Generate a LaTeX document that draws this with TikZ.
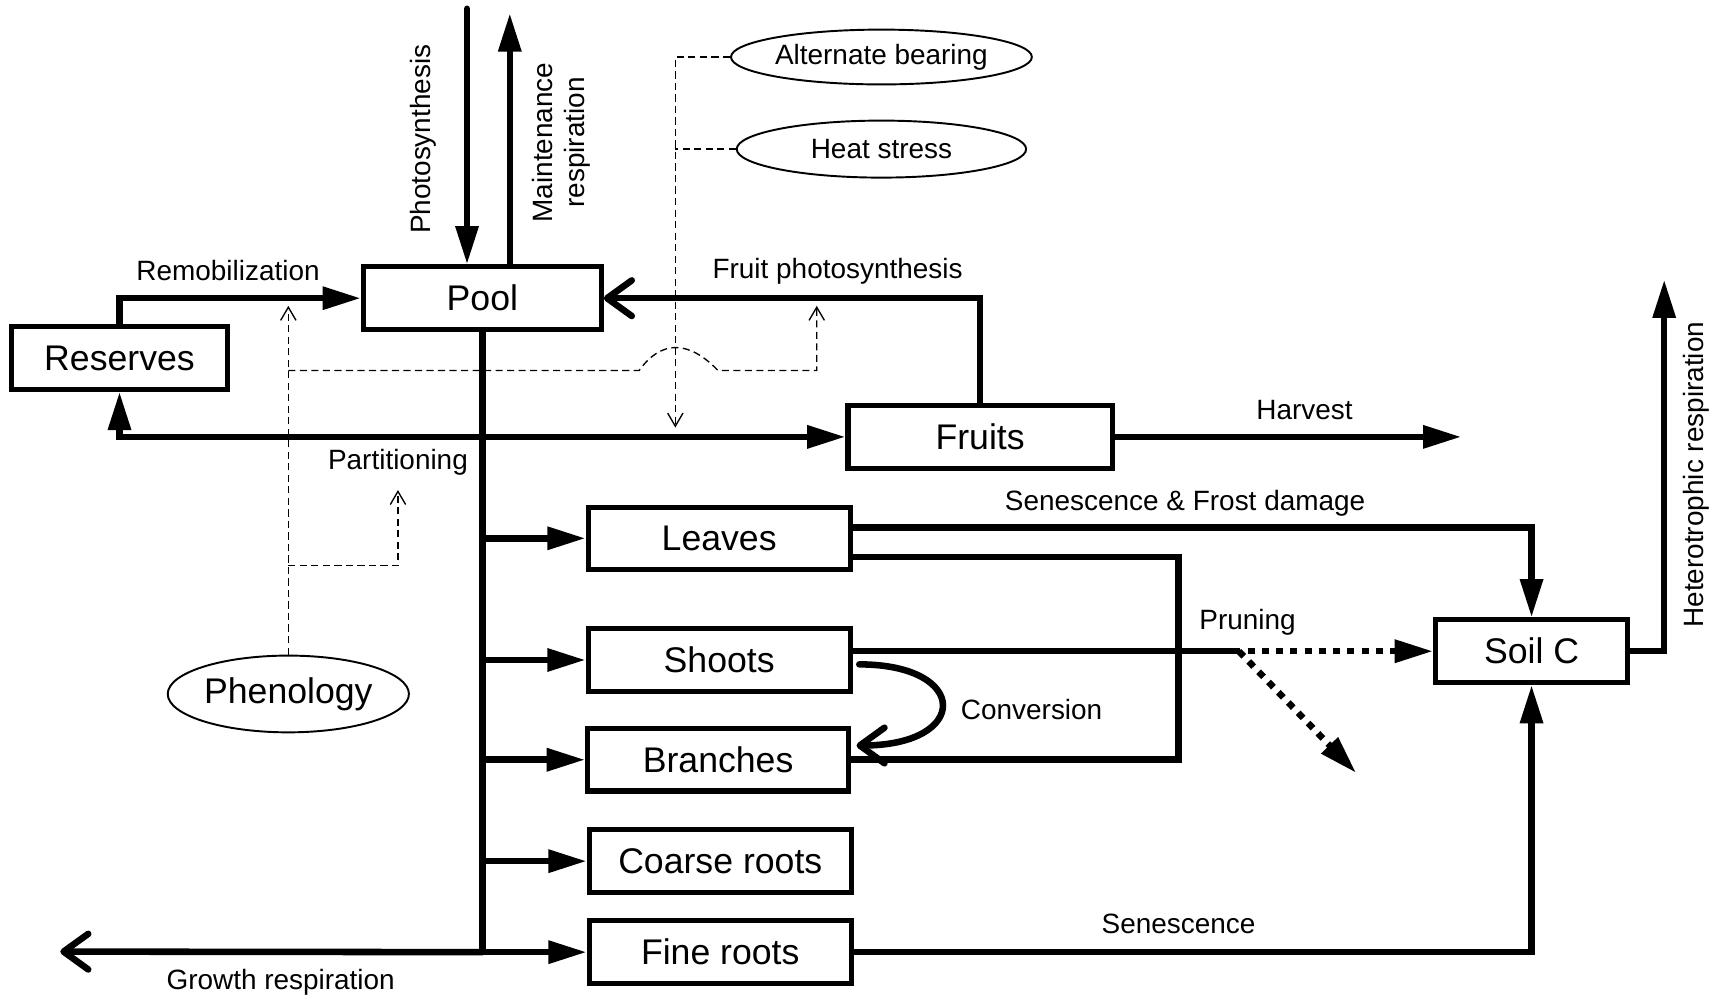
\documentclass[tikz,border=0pt]{standalone}
\usepackage{fontspec}
\setmainfont{Liberation Sans}
\usetikzlibrary{arrows.meta, calc, shapes.geometric}

\begin{document}
\begin{tikzpicture}[%
        x = 0.2mm,
        y = -0.2mm,
        line cap = round,
        > = {Triangle[length = 7mm, width = 4mm]},
        flow/.style = {line width = 3.4pt},
        compartment/.style = {%
            draw,
            line width = 2.6pt,
            minimum height = 11.4mm,
            inner sep = 0pt,
            font = \fontsize{18.5}{22}\selectfont
        },
        driver/.style = {%
            draw,
            ellipse,
            line width = 1pt,
            inner sep = 0pt,
            font = \fontsize{14.5}{17}\selectfont
        },
        flowtext/.style = {font = \fontsize{14.5}{17}\selectfont},
        control/.style = {%
            line width = 0.7pt,
            line cap = butt,
            dash pattern = on 1.3mm off 0.8mm
        },
        smallhead/.style = {-{Straight Barb[length = 2.4mm, width = 2.8mm]}},
        openhead/.style = {-{Straight Barb[round, length = 4.5mm, width = 6.5mm]}},
        prunedash/.style = {line cap = butt, dash pattern = on 1.3mm off 1.3mm}
    ]

        \useasboundingbox (0, 0) rectangle (1568, 910);

        % The carbon compartments.
        \node[compartment, minimum width = 43.4mm] (Pool) at (440, 272) {Pool};
        \node[compartment, minimum width = 39.4mm] (Reserves) at (109, 326.5) {Reserves};
        \node[compartment, minimum width = 48.2mm] (Fruits) at (894, 398.5) {Fruits};
        \node[compartment, minimum width = 47.8mm] (Leaves) at (656, 491) {Leaves};
        \node[compartment, minimum width = 47.8mm] (Shoots) at (656, 602) {Shoots};
        \node[compartment, minimum width = 47.6mm] (Branches) at (655, 693) {Branches};
        \node[compartment, minimum width = 47.8mm] (CoarseRoots) at (657, 785.5) {Coarse roots};
        \node[compartment, minimum width = 47.8mm] (FineRoots) at (657, 868.5) {Fine roots};
        \node[compartment, minimum width = 35mm] (SoilC) at (1397, 594) {Soil C};

        % The drivers in ellipses.
        \node[driver, minimum width = 52.8mm, minimum height = 10mm] (AltBearing) at (804, 52) {Alternate bearing};
        \node[driver, minimum width = 52.8mm, minimum height = 10.4mm] (HeatStress) at (804, 136) {Heat stress};
        \node[driver, minimum width = 44mm, minimum height = 14mm,
            font = \fontsize{18.5}{22}\selectfont] (Phenology) at (263, 633) {Phenology};

        % Free ends and bends of the connectors.
        \coordinate (ps) at (426, 8);
        \coordinate (mr) at (465, 12);
        \coordinate (trunk) at (440, 868);
        \coordinate (gr) at (55, 868);
        \coordinate (harvest) at (1333, 398.5);
        \coordinate (hr) at (1518, 255);
        \coordinate (lvtop) at ($(Leaves.east) + (0, -10)$);
        \coordinate (lvlow) at ($(Leaves.east) + (0, 17)$);
        \coordinate (merge) at (1075, 693);
        \coordinate (shout) at ($(Shoots.east) + (0, -8)$);
        \coordinate (prune) at (1125, 594);
        \coordinate (prunecut) at (1130, 594);
        \coordinate (pruneout) at (1237, 705);
        \coordinate (cstart) at ($(Shoots.east) + (6, 4)$);
        \coordinate (cend) at ($(Branches.east) + (5, -13)$);

        % Positions of the dashed control lines.
        \coordinate (fl) at (616, 390);
        \coordinate (remob) at (263, 279);
        \coordinate (ph1) at (263, 338);
        \coordinate (hump1) at (583, 338);
        \coordinate (hump2) at (655, 338);
        \coordinate (fp) at (745, 279);
        \coordinate (ph2) at (263, 516);
        \coordinate (pt) at (363, 447);

        % Add all of the labels.
        \node[flowtext, rotate = 90] (phototext) at (386, 127) {Photosynthesis};
        \node[flowtext, rotate = 90, align = center] (mrtext) at (512, 130) {Maintenance\\respiration};
        \node[flowtext] (remobtext) at (208, 247) {Remobilization};
        \node[flowtext] (fptext) at (764, 247) {Fruit photosynthesis};
        \node[flowtext] (parttext) at (363, 422) {Partitioning};
        \node[flowtext] (harvtext) at (1190, 374) {Harvest};
        \node[flowtext] (sftext) at (1081, 459) {Senescence \& Frost damage};
        \node[flowtext] (prunetext) at (1138, 568) {Pruning};
        \node[flowtext] (convtext) at (941, 647) {Conversion};
        \node[flowtext] (sentext) at (1075, 843) {Senescence};
        \node[flowtext] (grtext) at (256, 896) {Growth respiration};
        \node[flowtext, rotate = 90] (hrtext) at (1547, 433) {Heterotrophic respiration};

        % Fluxes in and out of the pool.
        \begin{scope}[flow]
            \draw[->] (ps) to (ps |- Pool.north);
            \draw[->] (mr |- Pool.north) to (mr);
            \draw[->] (Reserves.north) |- (Pool.west);
            \draw[openhead] (Fruits.north) |- (Pool.east);
            \draw (Pool.south) to (trunk);
            \draw[<->] (Reserves.south) |- (Fruits.west);
            \draw[openhead] (FineRoots.west -| trunk) to (gr);
        \end{scope}

        % Partitioning to the organs.
        \begin{scope}[flow, ->]
            \draw (Leaves.west -| trunk) to (Leaves.west);
            \draw (Shoots.west -| trunk) to (Shoots.west);
            \draw (Branches.west -| trunk) to (Branches.west);
            \draw (CoarseRoots.west -| trunk) to (CoarseRoots.west);
            \draw (FineRoots.west -| trunk) to (FineRoots.west);
        \end{scope}

        % Losses to harvest, litter and the soil.
        \begin{scope}[flow]
            \draw[->] (Fruits.east) to (harvest);
            \draw[->] (lvtop) -| (SoilC.north);
            \draw (lvlow) -| (merge) to (Branches.east);
            \draw (shout) to (prune);
            \draw[->, prunedash] (prune) to (SoilC.west);
            \draw[->, prunedash] (prunecut) to (pruneout);
            \draw[openhead] (cstart) .. controls (885, 606) and (885, 680) .. (cend);
            \draw[->] (FineRoots.east) -| (SoilC.south);
            \draw[->] (SoilC.east) -| (hr);
        \end{scope}

        % Dashed lines for the controls on the fluxes.
        \begin{scope}[control]
            \draw[smallhead] (AltBearing.west) -| (fl);
            \draw (HeatStress.west) to (HeatStress.west -| fl);
            \draw[smallhead] (Phenology.north) to (remob);
            \draw[smallhead] (ph1) to (hump1)
                .. controls (603, 310) and (628, 310) .. (hump2) -| (fp);
            \draw[smallhead] (ph2) -| (pt);
        \end{scope}
    \end{tikzpicture}
\end{document}
